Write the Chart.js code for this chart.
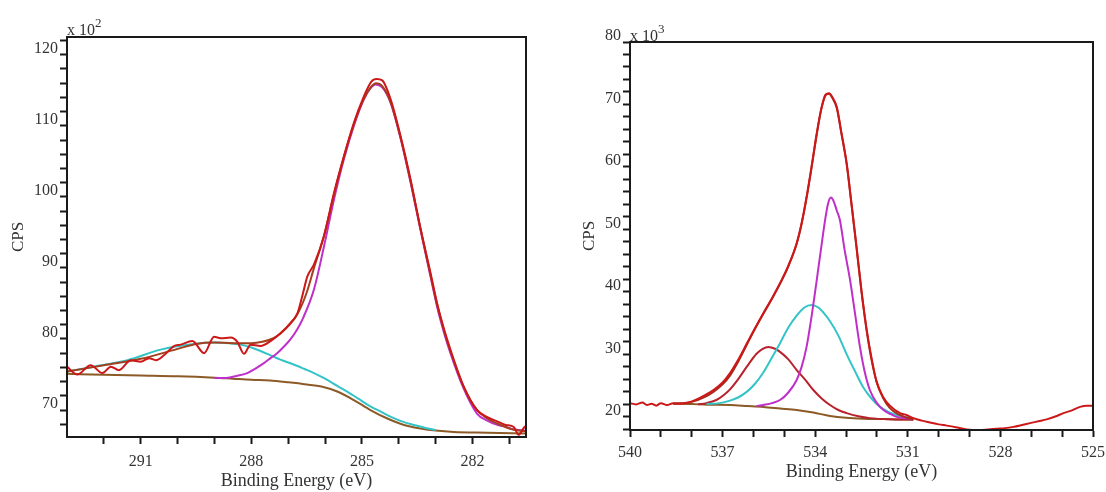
<!DOCTYPE html>
<html>
<head>
<meta charset="utf-8">
<script src="https://cdn.jsdelivr.net/npm/chart.js@4.4.1/dist/chart.umd.min.js"></script>
<style>
body { margin: 0; background: #fff; width: 1106px; height: 492px; position: relative; overflow: hidden; font-family: 'Liberation Serif', 'Times New Roman', serif; }
.box { position: absolute; top: 0; }
.exp { position: absolute; font-size: 16px; line-height: 16px; color: #333; white-space: nowrap; }
.exp span { position: relative; top: -8px; font-size: 13px; }
</style>
</head>
<body>
<div class="box" style="left:0;width:540px;height:492px"><canvas id="c1s" width="540" height="492"></canvas></div>
<div class="box" style="left:545px;width:561px;height:492px"><canvas id="o1s" width="561" height="492"></canvas></div>
<div class="exp" style="left:67px;top:22px">x 10<span>2</span></div>
<div class="exp" style="left:630px;top:28px">x 10<span>3</span></div>
<script>
// ---------- C 1s (left panel), CPS x 10^2 ----------
const c1sRawE = [293.00, 292.72, 292.36, 292.04, 291.81, 291.59, 291.27, 291.00, 290.77, 290.59, 290.37, 290.10, 289.92, 289.60, 289.28, 289.01, 288.83, 288.56, 288.38, 288.20, 288.02, 287.75, 287.48, 287.21, 286.93, 286.75, 286.62, 286.48, 286.30, 286.03, 285.76, 285.49, 285.22, 284.95, 284.75, 284.60, 284.45, 284.22, 283.95, 283.68, 283.41, 283.14, 282.96, 282.78, 282.60, 282.24, 281.88, 281.60, 281.33, 281.10, 280.88, 280.75, 280.62, 280.55];
const c1sRaw  = [76.1, 75.0, 76.3, 75.2, 76.1, 75.6, 77.0, 76.8, 77.3, 77.0, 77.7, 79.0, 79.2, 79.7, 78.0, 80.3, 80.1, 80.2, 79.6, 77.9, 79.2, 79.0, 79.7, 80.8, 82.3, 83.6, 86.0, 88.8, 90.5, 94.5, 100.5, 105.7, 110.4, 114.1, 116.2, 116.6, 116.4, 113.7, 108.5, 102.4, 95.5, 89.3, 85.0, 81.5, 78.5, 73.3, 70.0, 69.0, 68.4, 67.9, 67.6, 66.5, 67.4, 67.8];

const c1sFitE = [293.0, 292.0, 291.0, 290.0, 289.5, 289.0, 288.5, 288.0, 287.7, 287.4, 287.2, 287.0, 286.75, 286.5, 286.3, 286.03, 285.76, 285.49, 285.22, 284.95, 284.75, 284.62, 284.45, 284.22, 283.95, 283.68, 283.41, 283.14, 282.96, 282.78, 282.6, 282.24, 281.88, 281.6, 281.33, 281.0, 280.75, 280.55];
const c1sFit  = [75.4, 76.3, 77.2, 78.6, 79.3, 79.5, 79.4, 79.4, 79.6, 80.1, 80.8, 81.8, 83.5, 86.5, 90.0, 94.5, 100.3, 105.6, 110.2, 113.8, 115.5, 116.0, 115.6, 113.3, 108.3, 102.2, 95.5, 89.0, 84.8, 81.3, 78.3, 73.3, 70.0, 68.8, 68.1, 67.4, 67.1, 67.0];

const c1sPk1E = [289.0, 288.74, 288.4, 288.11, 287.9, 287.66, 287.48, 287.3, 287.1, 286.93, 286.75, 286.6, 286.3, 286.03, 285.76, 285.49, 285.22, 284.95, 284.75, 284.63, 284.45, 284.22, 283.95, 283.68, 283.41, 283.14, 282.96, 282.78, 282.6, 282.24, 281.88, 281.6, 281.33, 281.15, 280.9, 280.75, 280.55];
const c1sPk1  = [74.5, 74.5, 74.8, 75.2, 75.8, 76.6, 77.3, 78.0, 79.0, 80.0, 81.4, 82.9, 87.0, 93.0, 99.6, 105.3, 110.0, 113.7, 115.4, 115.8, 115.4, 113.2, 108.2, 102.0, 95.3, 88.8, 84.5, 81.0, 78.0, 73.0, 69.5, 68.5, 67.9, 67.7, 67.3, 67.2, 67.1];

const c1sPk2E = [293.0, 292.27, 291.36, 290.46, 289.56, 289.0, 288.6, 288.29, 288.0, 287.75, 287.48, 287.21, 286.85, 286.57, 286.3, 286.0, 285.67, 285.4, 285.1, 284.77, 284.5, 284.2, 283.86, 283.59, 283.3, 283.0];
const c1sPk2  = [75.4, 76.1, 77.0, 78.5, 79.3, 79.5, 79.4, 79.2, 78.8, 78.3, 77.7, 77.1, 76.4, 75.8, 75.2, 74.4, 73.4, 72.6, 71.6, 70.5, 69.8, 69.0, 68.3, 67.9, 67.5, 67.2];

const c1sBgE = [293.0, 292.0, 291.0, 290.0, 289.0, 288.5, 288.0, 287.5, 287.0, 286.5, 286.1, 285.67, 285.22, 284.77, 284.31, 283.86, 283.41, 283.0, 282.51, 281.6, 280.55];
const c1sBg  = [75.1, 74.95, 74.85, 74.75, 74.55, 74.4, 74.25, 74.15, 73.9, 73.6, 73.3, 72.6, 71.4, 70.0, 68.8, 67.9, 67.4, 67.1, 66.9, 66.8, 66.7];

const c1sXTicks  = [281, 282, 283, 284, 285, 286, 287, 288, 289, 290, 291, 292];
const c1sXLabels = [282, 285, 288, 291];
const c1sYTicks  = [68, 70, 72, 74, 76, 78, 80, 82, 84, 86, 88, 90, 92, 94, 96, 98, 100, 102, 104, 106, 108, 110, 112, 114, 116, 118, 120, 122];
const c1sYLabels = [70, 80, 90, 100, 110, 120];

// ---------- O 1s (right panel), CPS x 10^3 ----------
const o1sRawE = [540.0, 539.8, 539.6, 539.45, 539.3, 539.15, 539.0, 538.8, 538.6, 538.38, 538.1, 537.84, 537.57, 537.3, 537.0, 536.76, 536.5, 536.22, 535.95, 535.68, 535.4, 535.14, 534.87, 534.6, 534.44, 534.28, 534.12, 533.95, 533.8, 533.66, 533.55, 533.45, 533.3, 533.15, 532.98, 532.82, 532.66, 532.5, 532.33, 532.17, 532.01, 531.8, 531.58, 531.25, 531.04, 530.82, 530.55, 530.28, 530.0, 529.74, 529.4, 529.09, 528.66, 528.4, 528.12, 527.85, 527.58, 527.3, 527.04, 526.77, 526.5, 526.2, 525.96, 525.7, 525.42, 525.2, 525.0];
const o1sRaw  = [22.2, 22.0, 22.3, 21.9, 22.1, 21.8, 22.2, 21.9, 22.2, 22.1, 22.3, 22.8, 23.5, 24.3, 25.5, 27.0, 29.1, 31.7, 34.2, 36.6, 39.0, 41.4, 44.2, 47.8, 51.0, 55.2, 60.0, 65.4, 69.4, 71.6, 71.8, 71.2, 69.6, 65.5, 60.6, 54.0, 47.2, 40.2, 33.9, 29.3, 25.6, 23.2, 21.8, 20.6, 20.3, 19.8, 19.4, 19.1, 18.8, 18.6, 18.3, 18.0, 17.9, 18.0, 18.1, 18.2, 18.4, 18.7, 19.0, 19.3, 19.6, 20.1, 20.6, 21.0, 21.6, 21.8, 21.8];

const o1sFitE = [538.6, 538.0, 537.57, 537.3, 537.0, 536.76, 536.5, 536.22, 535.95, 535.68, 535.4, 535.14, 534.87, 534.6, 534.44, 534.28, 534.12, 533.95, 533.8, 533.66, 533.55, 533.45, 533.3, 533.15, 532.98, 532.82, 532.66, 532.5, 532.33, 532.17, 532.01, 531.8, 531.58, 531.3, 531.04, 530.82];
const o1sFit  = [22.1, 22.4, 23.2, 24.0, 25.2, 26.6, 28.8, 31.5, 34.1, 36.5, 38.9, 41.3, 44.1, 47.7, 50.9, 55.0, 59.8, 65.2, 69.3, 71.5, 71.7, 71.1, 69.4, 65.3, 60.4, 53.8, 47.0, 40.0, 33.7, 29.0, 25.6, 23.0, 21.4, 20.4, 19.9, 19.6];

const o1sPk1E = [537.8, 537.52, 537.2, 536.96, 536.76, 536.5, 536.22, 535.9, 535.7, 535.52, 535.3, 535.14, 534.87, 534.6, 534.3, 534.06, 533.8, 533.52, 533.25, 532.98, 532.6, 532.23, 531.36, 530.82];
const o1sPk1  = [22.0, 22.2, 22.7, 23.5, 24.4, 26.0, 28.0, 30.1, 30.9, 31.2, 30.9, 30.4, 29.2, 27.5, 25.8, 24.3, 23.0, 21.9, 21.1, 20.6, 20.1, 19.8, 19.6, 19.55];

const o1sPk2E = [537.52, 537.1, 536.76, 536.5, 536.22, 535.95, 535.68, 535.4, 535.14, 534.87, 534.6, 534.35, 534.12, 533.9, 533.72, 533.52, 533.25, 532.98, 532.7, 532.44, 532.17, 531.9, 531.63, 531.36, 531.1, 530.82];
const o1sPk2  = [22.05, 22.2, 22.6, 23.1, 24.0, 25.3, 27.1, 29.5, 31.8, 34.3, 36.2, 37.5, 37.9, 37.5, 36.6, 35.3, 33.0, 30.0, 27.2, 24.7, 22.9, 21.6, 20.8, 20.3, 20.0, 19.8];

const o1sPk3E = [535.9, 535.68, 535.4, 535.14, 534.87, 534.6, 534.44, 534.28, 534.12, 533.95, 533.8, 533.68, 533.58, 533.49, 533.4, 533.3, 533.2, 533.05, 532.87, 532.7, 532.55, 532.4, 532.23, 532.0, 531.79, 531.58, 531.36, 531.1, 530.82];
const o1sPk3  = [21.7, 21.9, 22.2, 22.7, 23.9, 25.9, 28.0, 31.2, 36.0, 41.9, 47.3, 51.5, 54.2, 55.1, 54.5, 53.0, 51.5, 46.8, 41.9, 36.2, 31.2, 27.3, 24.3, 22.2, 21.1, 20.5, 20.0, 19.8, 19.65];

const o1sBgE = [538.6, 538.0, 537.5, 536.76, 536.2, 535.68, 535.14, 534.6, 534.06, 533.52, 533.0, 532.44, 531.8, 531.3, 530.82];
const o1sBg  = [22.1, 22.05, 21.95, 21.9, 21.75, 21.6, 21.35, 21.1, 20.7, 20.15, 19.85, 19.7, 19.65, 19.6, 19.6];

const o1sXTicks  = [525, 526, 527, 528, 529, 530, 531, 532, 533, 534, 535, 536, 537, 538, 539, 540];
const o1sXLabels = [525, 528, 531, 534, 537, 540];
const o1sYTicks  = [18, 20, 22, 24, 26, 28, 30, 32, 34, 36, 38, 40, 42, 44, 46, 48, 50, 52, 54, 56, 58, 60, 62, 64, 66, 68, 70, 72, 74, 76, 78, 80];
const o1sYLabels = [20, 30, 40, 50, 60, 70, 80];

const serif = "'Liberation Serif', 'Times New Roman', serif";

function pts(xs, ys) {
    return xs.map((x, i) => ({ x: x, y: ys[i] }));
}

function line(label, xs, ys, color) {
    return {
        label: label,
        data: pts(xs, ys),
        borderColor: color,
        borderWidth: 2,
        pointRadius: 0,
        cubicInterpolationMode: 'monotone',
        fill: false
    };
}

// black box round the plot area
const frame = {
    id: 'frame',
    afterDraw(chart) {
        const a = chart.chartArea;
        const ctx = chart.ctx;
        ctx.save();
        ctx.strokeStyle = '#1a1a1a';
        ctx.lineWidth = 2;
        ctx.strokeRect(a.left, a.top, a.right - a.left, a.bottom - a.top);
        ctx.restore();
    }
};

function makeChart(id, datasets, o) {
    return new Chart(document.getElementById(id), {
        type: 'line',
        data: { datasets: datasets },
        plugins: [frame],
        options: {
            responsive: false,
            animation: false,
            devicePixelRatio: 1,
            layout: { padding: o.padding },
            plugins: { legend: { display: false }, tooltip: { enabled: false } },
            scales: {
                x: {
                    type: 'linear',
                    reverse: true,
                    min: o.xMin,
                    max: o.xMax,
                    afterBuildTicks: s => { s.ticks = o.xTicks.map(v => ({ value: v })); },
                    afterFit: s => { s.height = o.xHeight; s.paddingLeft = 0; s.paddingRight = 0; },
                    grid: { drawOnChartArea: false, drawTicks: true, tickLength: 7, tickColor: '#1a1a1a', tickWidth: 2 },
                    border: { display: true, color: '#1a1a1a', width: 2 },
                    ticks: {
                        autoSkip: false, maxRotation: 0, padding: o.xPad,
                        color: '#333', font: { family: serif, size: 16 },
                        callback: v => o.xLabels.includes(v) ? String(v) : ''
                    },
                    title: {
                        display: true, text: 'Binding Energy (eV)', color: '#333',
                        font: { family: serif, size: 18 }, padding: { top: 0, bottom: o.xTitlePad }
                    }
                },
                y: {
                    type: 'linear',
                    min: o.yMin,
                    max: o.yMax,
                    afterBuildTicks: s => { s.ticks = o.yTicks.map(v => ({ value: v })); },
                    afterFit: s => { s.width = o.yWidth; s.paddingTop = 0; s.paddingBottom = 0; },
                    grid: { drawOnChartArea: false, drawTicks: true, tickLength: 7, tickColor: '#1a1a1a', tickWidth: 2 },
                    border: { display: true, color: '#1a1a1a', width: 2 },
                    ticks: {
                        autoSkip: false, padding: 2, labelOffset: -6,
                        color: '#333', font: { family: serif, size: 16 },
                        callback: v => o.yLabels.includes(v) ? String(v) : ''
                    },
                    title: {
                        display: true, text: 'CPS', color: '#333',
                        font: { family: serif, size: 17 }, padding: { top: o.yTitlePad, bottom: 0 }
                    }
                }
            }
        }
    });
}

makeChart('c1s', [
    line('Raw', c1sRawE, c1sRaw, '#cc1818'),
    line('Envelope', c1sFitE, c1sFit, '#a3401f'),
    line('C-C', c1sPk1E, c1sPk1, '#bf2fc9'),
    line('O-C=O', c1sPk2E, c1sPk2, '#33c4c8'),
    line('Background', c1sBgE, c1sBg, '#8c5a26')
], {
    padding: { top: 37, right: 14, left: 0, bottom: 0 },
    xMin: 280.55, xMax: 293, xTicks: c1sXTicks, xLabels: c1sXLabels, xHeight: 55, xPad: 8, xTitlePad: 0,
    yMin: 66.2, yMax: 122.5, yTicks: c1sYTicks, yLabels: c1sYLabels, yWidth: 67, yTitlePad: 8
});

makeChart('o1s', [
    line('Raw', o1sRawE, o1sRaw, '#cc1818'),
    line('Envelope', o1sFitE, o1sFit, '#a82a1e'),
    line('C-O', o1sPk3E, o1sPk3, '#bf2fc9'),
    line('C=O', o1sPk2E, o1sPk2, '#33c4c8'),
    line('H2O', o1sPk1E, o1sPk1, '#b8222c'),
    line('Background', o1sBgE, o1sBg, '#8c5a26')
], {
    padding: { top: 42, right: 13, left: 0, bottom: 0 },
    xMin: 525, xMax: 540, xTicks: o1sXTicks, xLabels: o1sXLabels, xHeight: 62, xPad: 6, xTitlePad: 9,
    yMin: 17.9, yMax: 80, yTicks: o1sYTicks, yLabels: o1sYLabels, yWidth: 85, yTitlePad: 34
});
</script>
</body>
</html>
